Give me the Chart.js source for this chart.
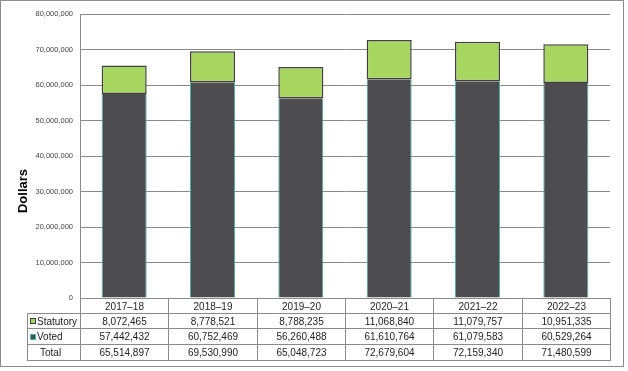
<!DOCTYPE html>
<html>
<head>
<meta charset="utf-8">
<script src="https://cdn.jsdelivr.net/npm/chart.js@4/dist/chart.umd.min.js"></script>
<style>
  body { margin: 0; background: #fff; }
  #wrap { position: relative; width: 628px; height: 371px; }
  #frame { position: absolute; left: 0; top: 0; width: 622px; height: 365px; border: 1px solid #8c8c8c; pointer-events: none; }
  .cell { position: absolute; box-sizing: border-box; border: 1px solid #8a8a8a; display: flex; align-items: center; justify-content: center;
          font: 10px "Liberation Sans", Arial, sans-serif; color: #222; white-space: nowrap; }
  .cell.lab { justify-content: flex-start; padding-left: 2px; }
  .mk { display: inline-block; width: 4px; height: 4px; margin-right: 1px; border: 1px solid; }
</style>
</head>
<body>
<div id="wrap">
  <canvas id="c" width="628" height="371"></canvas>
  <div id="tbl"></div>
  <div id="frame"></div>
</div>
<script>
  const years = ['2017\u201318','2018\u201319','2019\u201320','2020\u201321','2021\u201322','2022\u201323'];
  const statutory = [8072465, 8778521, 8788235, 11068840, 11079757, 10951335];
  const voted = [57442432, 60752469, 56260488, 61610764, 61079583, 60529264];
  const totals = [65514897, 69530990, 65048723, 72679604, 72159340, 71480599];
  const yTicks = [0, 10000000, 20000000, 30000000, 40000000, 50000000, 60000000, 70000000, 80000000];

  const green = '#a6d65f', dark = '#4d4d4f', teal = '#4fb3a8', edge = '#404040';
  const fmt = v => v.toLocaleString('en-US');

  // y-axis title placed on the whole figure, not just the plot
  const dollarsTitle = {
    id: 'dollarsTitle',
    afterDraw(chart) {
      const ctx = chart.ctx;
      ctx.save();
      ctx.translate(23, 191);
      ctx.rotate(-Math.PI / 2);
      ctx.font = 'bold 13px "Liberation Sans", Arial, sans-serif';
      ctx.fillStyle = '#000';
      ctx.textAlign = 'center';
      ctx.textBaseline = 'middle';
      ctx.fillText('Dollars', 0, 0);
      ctx.restore();
    }
  };

  const chart = new Chart(document.getElementById('c'), {
    type: 'bar',
    data: {
      labels: years,
      datasets: [
        { label: 'Voted', data: voted, backgroundColor: dark, borderColor: teal,
          borderWidth: { left: 1, right: 1, top: 0, bottom: 0 }, borderSkipped: false },
        { label: 'Statutory', data: statutory, backgroundColor: green, borderColor: edge,
          borderWidth: 1.5, borderSkipped: false }
      ]
    },
    options: {
      responsive: false,
      animation: false,
      layout: { padding: { top: 14, right: 18, bottom: 73, left: 0 } },
      datasets: { bar: { categoryPercentage: 1, barPercentage: 0.51 } },
      plugins: { legend: { display: false }, tooltip: { enabled: false } },
      scales: {
        x: { stacked: true, display: false },
        y: {
          stacked: true, min: 0, max: 80000000,
          afterFit: s => { s.width = 80; },
          afterBuildTicks: s => { s.ticks = yTicks.map(v => ({ value: v })); },
          border: { display: true, color: '#8a8a8a', width: 1 },
          grid: { color: '#8a8a8a', lineWidth: 1, drawTicks: false },
          ticks: { padding: 7, color: '#404040', font: { family: '"Liberation Sans", Arial, sans-serif', size: 7.5 },
                   callback: v => fmt(v) }
        }
      }
    },
    plugins: [dollarsTitle]
  });

  // data table under the plot, columns follow the x scale
  (function buildTable() {
    const tbl = document.getElementById('tbl');
    const xs = chart.scales.x, area = chart.chartArea;
    const half = (area.right - area.left) / years.length / 2;
    const rowsY = [area.bottom, 313, 328, 344, 360];
    const labLeft = 27;
    const cell = (x0, y0, x1, y1, html, cls) => {
      const d = document.createElement('div');
      d.className = 'cell' + (cls ? ' ' + cls : '');
      d.style.left = Math.round(x0) + 'px';
      d.style.top = Math.round(y0) + 'px';
      d.style.width = (Math.round(x1) - Math.round(x0) + 1) + 'px';
      d.style.height = (Math.round(y1) - Math.round(y0) + 1) + 'px';
      d.innerHTML = html;
      tbl.appendChild(d);
    };
    const rows = [
      { label: '<span class="mk" style="background:' + green + ';border-color:' + edge + '"></span>Statutory', vals: statutory },
      { label: '<span class="mk" style="background:' + dark + ';border-color:' + teal + '"></span>Voted', vals: voted },
      { label: '<span style="padding-left:10px">Total</span>', vals: totals }
    ];
    years.forEach((y, i) => {
      const c = xs.getPixelForValue(i);
      cell(c - half, rowsY[0], c + half, rowsY[1], y, '');
    });
    rows.forEach((r, k) => {
      cell(labLeft, rowsY[k + 1], area.left, rowsY[k + 2], r.label, 'lab');
      r.vals.forEach((v, i) => {
        const c = xs.getPixelForValue(i);
        cell(c - half, rowsY[k + 1], c + half, rowsY[k + 2], fmt(v), '');
      });
    });
  })();
</script>
</body>
</html>
